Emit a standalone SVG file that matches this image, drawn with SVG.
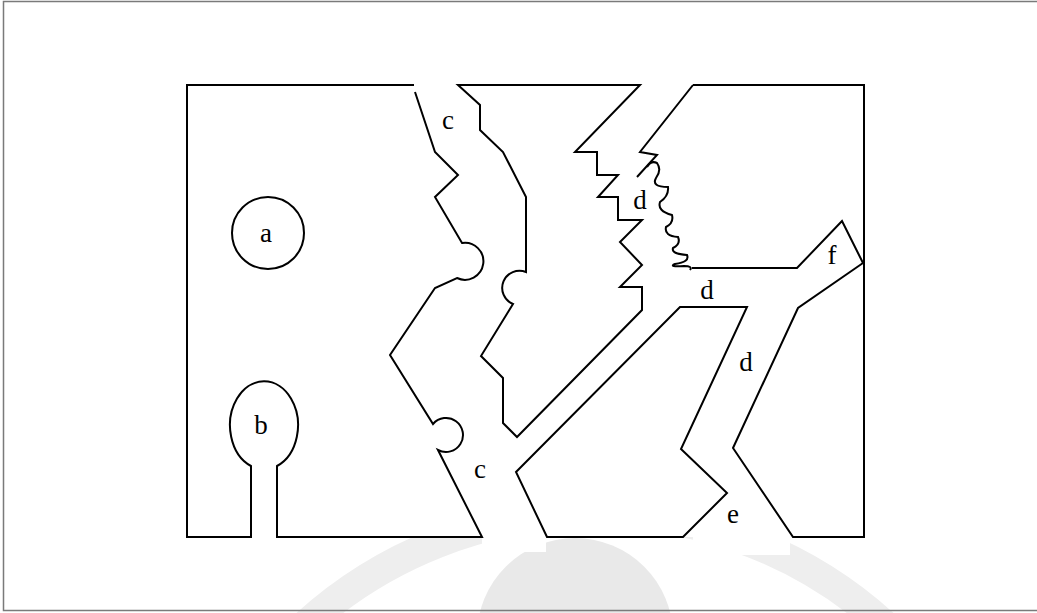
<svg xmlns="http://www.w3.org/2000/svg" width="1037" height="613" viewBox="0 0 1037 613">
<style>
.ln{fill:none;stroke:#000;stroke-width:2;stroke-linejoin:miter;stroke-linecap:butt}
.lb{font-family:"Liberation Serif","Times New Roman",serif;font-size:27px;fill:#000;text-anchor:middle}
.wm{fill:#e9e9e9}
</style>
<rect x="0" y="0" width="1037" height="613" fill="#fff"/>
<g id="watermark">
<circle class="wm" cx="575" cy="636" r="98"/>
<circle cx="595" cy="943" r="430" fill="none" stroke="#eeeeee" stroke-width="30"/>
</g>
<rect x="187" y="85" width="677" height="452" fill="#fff"/>
<rect x="482" y="536" width="64" height="16" fill="#fff"/>
<rect x="693" y="536" width="97" height="19" fill="#fff"/>
<rect x="3.5" y="1.5" width="1040" height="609" fill="none" stroke="#7a7a7a" stroke-width="1.5"/>
<g id="connectors">
<path id="left-piece" class="ln" d="M414,85 H187 V537 H251 V466 A34,44 0 1 1 277,466 V537 H482 L438,450 A17,17 0 1 0 433,424 L390,355 L435,288 L457,278 A18.5,18.5 0 1 0 462,243 L435,197 L458,175 L435,152 L415,92"/>
<path id="middle-piece" class="ln" d="M458,85 H640 L575,152 H597 V175 H618 L598,197 H618 V220 H642 L620,242 L642,265 L620,287 H642 V310 L517,437 L503,423 V378 L481,356 L513,304 A17,17 0 1 1 526,272 V197 L503,152 L480,130 V105 Z"/>
<path id="right-piece" class="ln" d="M693,85 H864 V537 H793 L733,448 L798,308 L863,263 L842,221 L797,268 H692"/>
<path id="right-jag" class="ln" d="M693,85 L640,152 L657,155 L637,177"/>
<path id="wavy" class="ln" stroke-width="1.6" d="M647,167 Q651,160 657,163 Q662,170 656,178 Q651,187 668,187 Q669,196 660,202 Q657,211 672,215 Q674,223 666,227 Q664,236 678,237 Q681,244 673,248 Q671,254 687,255 Q690,262 675,264 Q668,267 684,266 Q693,266 690,270"/>
<path id="e-piece" class="ln" d="M680,307 H747 L681,449 L727,493 L683,537 H547 L516,472 Z"/>
</g>
<g id="node-a"><circle class="ln" cx="268" cy="233" r="36"/><text class="lb" x="266" y="242">a</text></g>
<g id="node-b"><text class="lb" x="261" y="434">b</text></g>
<g id="labels">
<text class="lb" x="448" y="129">c</text>
<text class="lb" x="480" y="478">c</text>
<text class="lb" x="640" y="209">d</text>
<text class="lb" x="707" y="299">d</text>
<text class="lb" x="746" y="371">d</text>
<text class="lb" x="733" y="523">e</text>
<text class="lb" x="832" y="264">f</text>
</g>
</svg>
